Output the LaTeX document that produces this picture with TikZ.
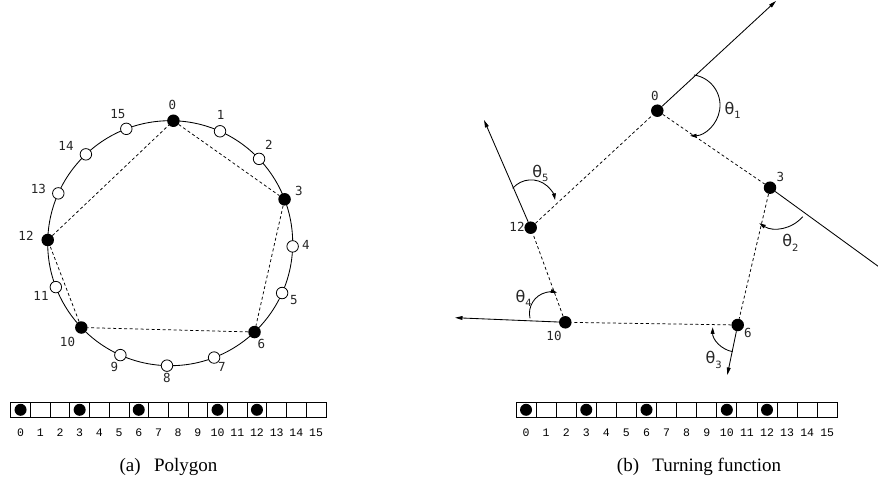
\documentclass[tikz,border=0pt]{standalone}
\usepackage{fontspec}
\setmainfont{Liberation Serif}
\newfontfamily\lblfont{DejaVu Sans Mono}
\newfontfamily\arrfont{Liberation Mono}
\newfontfamily\thfont{DejaVu Sans}
\usetikzlibrary{arrows.meta}
\newcommand{\thsub}[1]{θ\raisebox{-4.5pt}{\fontsize{10}{10}\selectfont #1}}
\begin{document}
\begin{tikzpicture}[x=1pt,y=-1pt,
  fdot/.style={circle,fill=black,inner sep=0pt,minimum size=12.5pt},
  odot/.style={circle,draw,fill=white,inner sep=0pt,minimum size=11.5pt,line width=0.8pt},
  lbl/.style={font=\lblfont\fontsize{12.5}{12.5}\selectfont,text=black!85,inner sep=0pt},
  alb/.style={font=\arrfont\fontsize{11.5}{11.5}\selectfont,inner sep=0pt},
  pedge/.style={dash pattern=on 3pt off 2.5pt,line width=0.75pt},
  ray/.style={line width=0.85pt,-{Triangle[length=7.5pt,width=3.8pt]}},
  ang/.style={line width=0.85pt,-{Triangle[length=6.5pt,width=3.8pt]}},
  th/.style={font=\thfont\fontsize{16}{16}\selectfont,text=black!85,inner sep=0pt,anchor=base west},
  cellA/.style={draw,line width=0.8pt,minimum width=19.7pt,minimum height=15pt,inner sep=0pt},
  cellB/.style={draw,line width=0.8pt,minimum width=20.08pt,minimum height=15pt,inner sep=0pt},
  adot/.style={circle,fill=black,inner sep=0pt,minimum size=12pt},
  captext/.style={font=\fontsize{19}{19}\selectfont,inner sep=0pt}]
\clip (0,0) rectangle (878,486);
\fill[white] (0,0) rectangle (878,486);
% ---------------- (a) polygon ----------------
\draw[line width=0.85pt] (170.2,243.2) circle[radius=122.5];
\begin{scope}[shift={(170.2,243.2)}]
  \foreach \k in {1,2,4,5,7,8,9,11,13,14,15}
    \node[odot] (p\k) at ({\k*22.5-88.5}:122.5) {};
  \foreach \k in {0,3,6,10,12}
    \node[fdot] (p\k) at ({\k*22.5-88.5}:122.5) {};
\end{scope}
\draw[pedge] (p0) -- (p3) -- (p6) -- (p10) -- (p12) -- (p0);
\node[lbl] (l0) at (172.3,105.2) {0};
\node[lbl] (l1) at (220.7,114.5) {1};
\node[lbl] (l2) at (268.8,145.2) {2};
\node[lbl] (l3) at (299,191) {3};
\node[lbl] (l4) at (306,245) {4};
\node[lbl] (l5) at (293.8,300.5) {5};
\node[lbl] (l6) at (261.5,343.8) {6};
\node[lbl] (l7) at (222,366.5) {7};
\node[lbl] (l8) at (167,378) {8};
\node[lbl] (l9) at (114.5,366.5) {9};
\node[lbl] (l10) at (67.5,341.5) {10};
\node[lbl] (l11) at (41,295.5) {11};
\node[lbl] (l12) at (26,236) {12};
\node[lbl] (l13) at (38.5,189.3) {13};
\node[lbl] (l14) at (66,145.5) {14};
\node[lbl] (l15) at (117.8,113.8) {15};
% array a
\foreach \i in {0,...,15}{
  \node[cellA] (a\i) at ({10.7+19.7*\i+9.85},409.8) {};
  \node[alb] (al\i) at ([yshift=-23pt]a\i.center) {\i};
}
\foreach \i in {0,3,6,10,12} \node[adot] (ad\i) at (a\i) {};
\node[captext] (capa) at (168.5,466.5) {(a)\hspace{0.45em} Polygon};
% ---------------- (b) turning function ----------------
\node[fdot] (q0) at (657.3,110.7) {};
\node[fdot] (q3) at (770,187.7) {};
\node[fdot] (q6) at (737.7,325) {};
\node[fdot] (q10) at (565.3,322.3) {};
\node[fdot] (q12) at (530.7,227.7) {};
\draw[pedge] (q0) -- (q3) -- (q6) -- (q10) -- (q12) -- (q0);
\coordinate (e0) at (776,1);
\coordinate (e3) at (886,272);
\coordinate (e6) at (727.3,375);
\coordinate (e10) at (455,317.7);
\coordinate (e12) at (484,120);
\draw[ray] (q0) -- (e0);
\draw[line width=0.85pt] (q3) -- (e3);
\draw[ray] (q6) -- (e6);
\draw[ray] (q10) -- (e10);
\draw[ray] (q12) -- (e12);
% angle arcs
\draw[ang] (694,75) arc[start angle=-81.4,end angle=88.9,radius=30.6];
\draw[ang] (802.7,216.7) arc[start angle=40.7,end angle=122.1,radius=33.7];
\draw[ang] (732.7,351.7) arc[start angle=100.2,end angle=181.2,radius=24.3];
\draw[ang] (530,318.3) arc[start angle=167,end angle=286.7,radius=21.6];
\draw[ang] (512.7,188.3) arc[start angle=220.8,end angle=350,radius=24.3];
\node[th] (t1) at (724.5,114.5) {\thsub{1}};
\node[th] (t2) at (782.2,246.8) {\thsub{2}};
\node[th] (t3) at (705.5,363.5) {\thsub{3}};
\node[th] (t4) at (515.5,302) {\thsub{4}};
\node[th] (t5) at (532.2,177.2) {\thsub{5}};
\node[lbl] (m0) at (655,95.5) {0};
\node[lbl] (m3) at (780.5,176.7) {3};
\node[lbl] (m6) at (747.8,333.3) {6};
\node[lbl] (m10) at (554,336) {10};
\node[lbl] (m12) at (517,226.7) {12};
% array b
\foreach \i in {0,...,15}{
  \node[cellB] (b\i) at ({516+20.08*\i+10.04},409.8) {};
  \node[alb] (bl\i) at ([yshift=-23pt]b\i.center) {\i};
}
\foreach \i in {0,3,6,10,12} \node[adot] (bd\i) at (b\i) {};
\node[captext] (capb) at (699,466.5) {(b)\hspace{0.45em} Turning function};
\end{tikzpicture}
\end{document}
